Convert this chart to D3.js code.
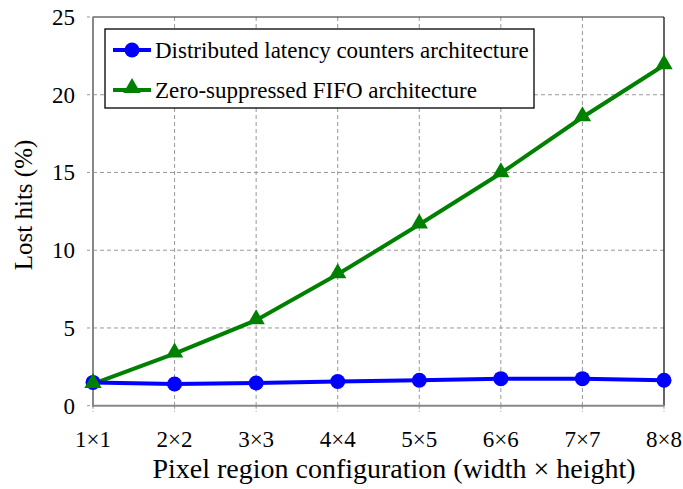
<!DOCTYPE html>
<html><head><meta charset="utf-8">
<script src="https://cdn.jsdelivr.net/npm/d3@7"></script>
<style>body{margin:0;background:#fff}svg{display:block}svg text{font-family:"Liberation Serif","Times New Roman","DejaVu Serif",serif}</style>
</head><body>
<script>
const categories = ["1×1","2×2","3×3","4×4","5×5","6×6","7×7","8×8"];
const distributed = [1.5, 1.4, 1.46, 1.56, 1.64, 1.74, 1.74, 1.64];
const fifo = [1.4, 3.35, 5.5, 8.45, 11.65, 14.95, 18.55, 21.9];
const yTicks = [0, 5, 10, 15, 20, 25];
const seriesNames = ["Distributed latency counters architecture", "Zero-suppressed FIFO architecture"];

const W = 683, H = 489;
const m = {left: 93, right: 664, top: 17, bottom: 405.7};
const svg = d3.select("body").append("svg").attr("width", W).attr("height", H);

const x = d3.scalePoint().domain(categories).range([m.left, m.right]);
const y = d3.scaleLinear().domain([0, 25]).range([m.bottom, m.top]);

// grid
const grid = svg.append("g").attr("stroke", "#999").attr("stroke-dasharray", "4,3").attr("stroke-width", 1);
categories.slice(1, -1).forEach(c => grid.append("line").attr("x1", x(c)).attr("x2", x(c)).attr("y1", m.top).attr("y2", m.bottom));
yTicks.slice(1, -1).forEach(v => grid.append("line").attr("x1", m.left).attr("x2", m.right).attr("y1", y(v)).attr("y2", y(v)));
categories.forEach(c => svg.append("line").attr("x1", x(c)).attr("x2", x(c)).attr("y1", m.bottom).attr("y2", m.bottom + 6).attr("stroke", "#999").attr("stroke-dasharray", "3,2"));
yTicks.forEach(v => svg.append("line").attr("x1", m.left - 6).attr("x2", m.left).attr("y1", y(v)).attr("y2", y(v)).attr("stroke", "#999").attr("stroke-dasharray", "3,2"));

// border
svg.append("line").attr("x1", m.left).attr("x2", m.right).attr("y1", m.top).attr("y2", m.top).attr("stroke", "#222").attr("stroke-width", 1.2);
svg.append("line").attr("x1", m.right).attr("x2", m.right).attr("y1", m.top).attr("y2", m.bottom).attr("stroke", "#000").attr("stroke-width", 1.2);
svg.append("line").attr("x1", m.left).attr("x2", m.left).attr("y1", m.top).attr("y2", m.bottom + 1).attr("stroke", "#888").attr("stroke-width", 2);
svg.append("line").attr("x1", m.left - 1).attr("x2", m.right).attr("y1", m.bottom).attr("y2", m.bottom).attr("stroke", "#888").attr("stroke-width", 2);

// tick labels
svg.append("g").selectAll("text").data(categories).join("text")
  .attr("x", d => x(d)).attr("y", 447).attr("text-anchor", "middle")
  .attr("font-size", 23).text(d => d);
svg.append("g").selectAll("text").data(yTicks).join("text")
  .attr("x", 75).attr("y", d => y(d) + 8).attr("text-anchor", "end")
  .attr("font-size", 23).text(d => d);

// axis titles
svg.append("text").attr("x", 394).attr("y", 478).attr("text-anchor", "middle")
  .attr("font-size", 28).text("Pixel region configuration (width × height)");
svg.append("text").attr("transform", `translate(32,205) rotate(-90)`).attr("text-anchor", "middle")
  .attr("font-size", 25).text("Lost hits (%)");

// lines
const line = d3.line().x((d, i) => x(categories[i])).y(d => y(d));
svg.append("path").datum(fifo).attr("d", line).attr("fill", "none").attr("stroke", "#008000").attr("stroke-width", 4);
svg.append("path").datum(distributed).attr("d", line).attr("fill", "none").attr("stroke", "#0000ff").attr("stroke-width", 4);

const tri = d3.symbol().type(d3.symbolTriangle).size(130);
svg.append("g").selectAll("circle").data(distributed).join("circle")
  .attr("cx", (d, i) => x(categories[i])).attr("cy", d => y(d)).attr("r", 7.5).attr("fill", "#0000ff");
svg.append("g").selectAll("path").data(fifo).join("path")
  .attr("transform", (d, i) => `translate(${x(categories[i])},${y(d) - 1})`).attr("d", tri).attr("fill", "#008000");

// legend
const lg = svg.append("g");
lg.append("rect").attr("x", 105).attr("y", 29).attr("width", 429).attr("height", 79).attr("fill", "#fff").attr("stroke", "#000").attr("stroke-width", 1.3);
const ly = [50, 90];
lg.append("line").attr("x1", 113).attr("x2", 151).attr("y1", ly[0]).attr("y2", ly[0]).attr("stroke", "#0000ff").attr("stroke-width", 4);
lg.append("circle").attr("cx", 132).attr("cy", ly[0]).attr("r", 7.5).attr("fill", "#0000ff");
lg.append("line").attr("x1", 113).attr("x2", 151).attr("y1", ly[1]).attr("y2", ly[1]).attr("stroke", "#008000").attr("stroke-width", 4);
lg.append("path").attr("transform", `translate(132,${ly[1] - 2})`).attr("d", tri).attr("fill", "#008000");
seriesNames.forEach((n, i) => lg.append("text").attr("x", 155).attr("y", ly[i] + 8)
  .attr("font-size", 23).text(n));
</script>
</body></html>
